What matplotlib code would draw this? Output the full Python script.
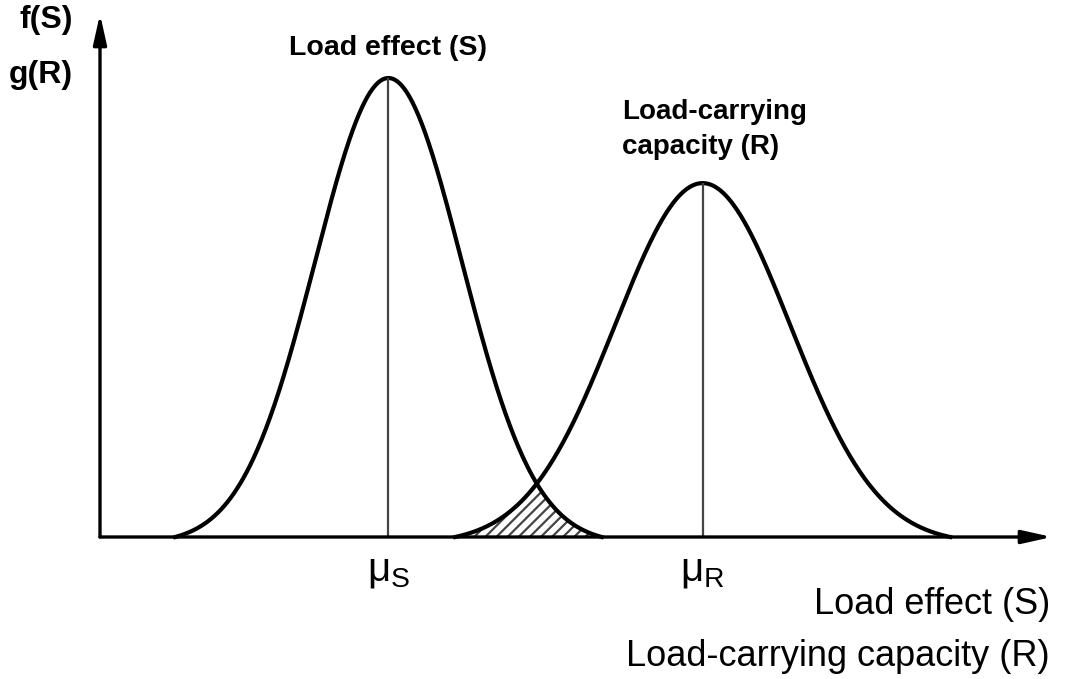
import numpy as np
import matplotlib.pyplot as plt

plt.rcParams['font.family'] = ['Liberation Sans', 'DejaVu Sans']
plt.rcParams['mathtext.fontset'] = 'custom'
plt.rcParams['mathtext.rm'] = 'Liberation Sans'
plt.rcParams['mathtext.it'] = 'Liberation Sans'
plt.rcParams['hatch.linewidth'] = 1.6

# distributions: load effect S and load-carrying capacity R
names = ['S', 'R']
means = [3.03, 6.33]
sigmas = [0.77, 0.92]
peaks = [1.0, 0.771]
half_widths = [2.24, 2.60]


def curve(x, mu, sigma, peak, hw):
    g = np.exp(-0.5 * ((x - mu) / sigma) ** 2)
    g_end = np.exp(-0.5 * (hw / sigma) ** 2)
    return peak * (g - g_end) / (1 - g_end)


W, H = 1067, 679
fig = plt.figure(figsize=(W / 100, H / 100), dpi=100)
ax = fig.add_axes([100 / W, (H - 537) / H, 952 / W, 523 / H])
ax.set_xlim(0, 10)
ax.set_ylim(0, 523 / 459)
ax.axis('off')

# axes with arrows
arrow = dict(arrowstyle='-|>,head_length=0.9,head_width=0.2', lw=2.4,
             color='black', shrinkA=0, shrinkB=0, mutation_scale=20)
ax.annotate('', xy=(0, 1), xytext=(0, 0), xycoords='axes fraction',
            arrowprops=arrow)
ax.annotate('', xy=(1, 0), xytext=(0, 0), xycoords='axes fraction',
            arrowprops=arrow)

for mu, sd, pk, hw in zip(means, sigmas, peaks, half_widths):
    x = np.linspace(mu - hw, mu + hw, 400)
    ax.plot(x, curve(x, mu, sd, pk, hw), color='black', lw=3, clip_on=False)
    ax.vlines(mu, 0, pk, color='#444444', lw=1.6)

# overlap (failure region)
xo = np.linspace(means[1] - half_widths[1], means[0] + half_widths[0], 300)
yo = np.minimum(curve(xo, means[0], sigmas[0], peaks[0], half_widths[0]),
                curve(xo, means[1], sigmas[1], peaks[1], half_widths[1]))
ax.fill_between(xo, 0, np.clip(yo, 0, None), facecolor='none',
                edgecolor='#444444', hatch='///', lw=0)

# labels
ax.text(means[0], 1.065, 'Load effect (S)', ha='center', va='center',
        fontsize=20.5, fontweight='bold')
ax.text(5.48, 0.887, 'Load-carrying\ncapacity (R)', ha='left', va='center',
        fontsize=20, fontweight='bold', linespacing=1.45)
for mu, n in zip(means, names):
    ax.text(mu, -0.075, r'$\mathrm{\mu_%s}$' % n, ha='center', va='center',
            fontsize=29)

fig.text(73 / W, 1 - 20 / H, 'f(S)', ha='right', va='center',
         fontsize=23, fontweight='bold')
fig.text(73 / W, 1 - 75 / H, 'g(R)', ha='right', va='center',
         fontsize=23, fontweight='bold')
fig.text(1050 / W, 1 - 605 / H, 'Load effect (S)', ha='right', va='center',
         fontsize=26)
fig.text(1050 / W, 1 - 657 / H, 'Load-carrying capacity (R)', ha='right',
         va='center', fontsize=26)

fig.savefig('out.png', dpi=100)
